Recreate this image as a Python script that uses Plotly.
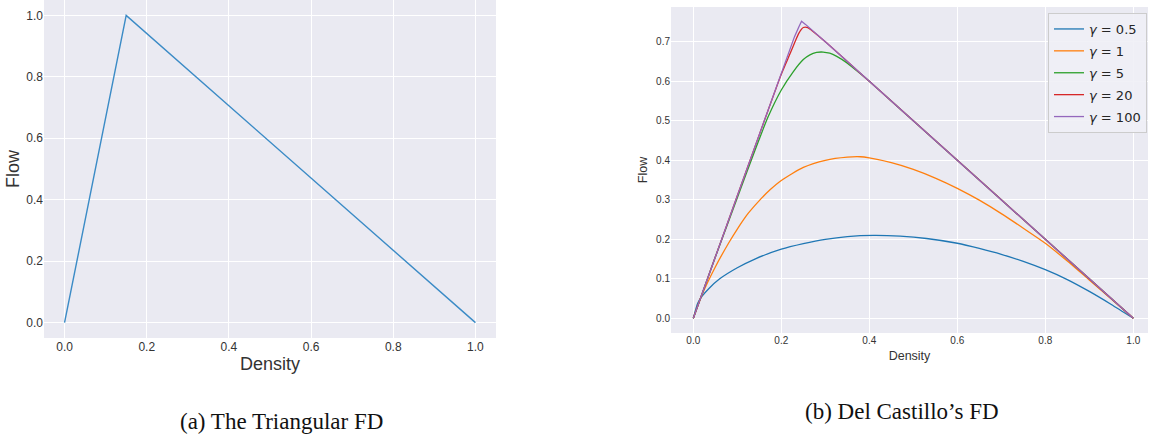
import plotly.graph_objects as go

# ---- (a) triangular fundamental diagram ----
tri_density = [0.0, 0.15, 1.0]
tri_flow = [0.0, 1.0, 0.0]

# ---- (b) Del Castillo's fundamental diagram, one curve per gamma ----
gamma_labels = ["0.5", "1", "5", "20", "100"]
gamma_colors = ["#1f77b4", "#ff7f0e", "#2ca02c", "#d62728", "#9467bd"]

d_g05 = [0.0, 0.01, 0.02, 0.035, 0.06, 0.1, 0.14, 0.2, 0.25, 0.3, 0.35, 0.41,
         0.47, 0.53, 0.6, 0.65, 0.7, 0.75, 0.8, 0.85, 0.9, 0.95, 1.0]
q_g05 = [0.0, 0.038, 0.056, 0.075, 0.1, 0.128, 0.15, 0.175, 0.189, 0.2, 0.207, 0.21,
         0.208, 0.202, 0.19, 0.177, 0.162, 0.144, 0.123, 0.098, 0.068, 0.035, 0.0]

d_g1 = [0.0, 0.02, 0.05, 0.08, 0.1, 0.125, 0.15, 0.175, 0.2, 0.25, 0.3, 0.35, 0.38, 0.4, 0.45,
        0.5, 0.55, 0.6, 0.65, 0.7, 0.75, 0.8, 0.85, 0.9, 0.95, 1.0]
q_g1 = [0.0, 0.06, 0.13, 0.19, 0.226, 0.266, 0.298, 0.326, 0.349, 0.382, 0.4, 0.408, 0.409,
        0.406, 0.394, 0.377, 0.355, 0.329, 0.299, 0.265, 0.228, 0.19, 0.145, 0.097, 0.049, 0.0]

d_g5 = [0.0, 0.05, 0.1, 0.14, 0.17, 0.2, 0.227, 0.25, 0.265, 0.28, 0.295, 0.31, 0.326,
        0.35, 0.38, 0.4, 0.45, 0.5, 0.6, 0.7, 0.8, 0.9, 1.0]
q_g5 = [0.0, 0.155, 0.305, 0.425, 0.51, 0.578, 0.624, 0.655, 0.667, 0.673, 0.674, 0.671, 0.663,
        0.646, 0.619, 0.6, 0.55, 0.5, 0.4, 0.3, 0.2, 0.1, 0.0]

d_g20 = [0.0, 0.05, 0.1, 0.15, 0.2, 0.22, 0.23, 0.24, 0.25, 0.26, 0.27, 0.3, 0.4,
         0.5, 0.6, 0.7, 0.8, 0.9, 1.0]
q_g20 = [0.0, 0.155, 0.31, 0.465, 0.618, 0.67, 0.697, 0.722, 0.736, 0.736, 0.728, 0.7, 0.6,
         0.5, 0.4, 0.3, 0.2, 0.1, 0.0]

d_g100 = [0.0, 0.05, 0.1, 0.15, 0.2, 0.23, 0.24, 0.246, 0.255, 0.27, 0.3, 0.4, 0.5,
          0.6, 0.7, 0.8, 0.9, 1.0]
q_g100 = [0.0, 0.155, 0.31, 0.465, 0.62, 0.713, 0.738, 0.752, 0.744, 0.73, 0.7, 0.6, 0.5,
          0.4, 0.3, 0.2, 0.1, 0.0]

curves = [(d_g05, q_g05, "spline"), (d_g1, q_g1, "spline"), (d_g5, q_g5, "spline"),
          (d_g20, q_g20, "spline"), (d_g100, q_g100, "linear")]

W, H = 1151, 438
BG = "#eaeaf2"
TXT = "#333333"

fig = go.Figure()

fig.add_trace(go.Scatter(x=tri_density, y=tri_flow, mode="lines",
                         line=dict(color="#3b8bc6", width=1.4),
                         xaxis="x", yaxis="y", showlegend=False))

for (dd, qq, shape), lab, col in zip(curves, gamma_labels, gamma_colors):
    fig.add_trace(go.Scatter(x=dd, y=qq, mode="lines", name=f"<i>γ</i> = {lab}",
                             legendgroup=f"g{lab}",
                             line=dict(color=col, width=1.3, shape=shape, smoothing=0.6),
                             xaxis="x2", yaxis="y2"))

def px_x(p):
    return p / W

def px_y(p):
    return 1 - p / H

axis_common = dict(showgrid=True, gridcolor="white", gridwidth=1, zeroline=False,
                   showline=False, ticks="", color=TXT)

fig.update_layout(
    width=W, height=H,
    margin=dict(l=0, r=0, t=0, b=0),
    paper_bgcolor="white",
    font=dict(family="Liberation Sans, Arial, sans-serif", color=TXT),
    xaxis=dict(axis_common, domain=[px_x(44), px_x(496)], range=[-0.05, 1.05],
               tickvals=[0, 0.2, 0.4, 0.6, 0.8, 1.0], tickformat=".1f",
               tickfont=dict(size=12), anchor="y",
               title=dict(text="Density", font=dict(size=18), standoff=4)),
    yaxis=dict(axis_common, domain=[px_y(338), px_y(0)], range=[-0.05, 1.05],
               tickvals=[0, 0.2, 0.4, 0.6, 0.8, 1.0], tickformat=".1f",
               tickfont=dict(size=12), anchor="x",
               title=dict(text="Flow", font=dict(size=18), standoff=2)),
    xaxis2=dict(axis_common, domain=[px_x(671), px_x(1148)], range=[-0.0507, 1.0334],
                tickvals=[0, 0.2, 0.4, 0.6, 0.8, 1.0], tickformat=".1f",
                tickfont=dict(size=10), anchor="y2",
                title=dict(text="Density", font=dict(size=12.5), standoff=6)),
    yaxis2=dict(axis_common, domain=[px_y(333), px_y(7)], range=[-0.0372, 0.788],
                tickvals=[0, 0.1, 0.2, 0.3, 0.4, 0.5, 0.6, 0.7], tickformat=".1f",
                tickfont=dict(size=10), anchor="x2",
                title=dict(text="Flow", font=dict(size=12.5), standoff=5)),
    plot_bgcolor=BG,
    legend=dict(x=px_x(1147), xanchor="right", y=px_y(13), yanchor="top",
                bgcolor="rgba(240,240,246,0.9)", bordercolor="#cccccc", borderwidth=1,
                font=dict(family="DejaVu Sans", size=13, color="#262626"),
                tracegroupgap=2, itemwidth=30),
    annotations=[
        dict(text="(a) The Triangular FD", x=px_x(281), y=px_y(421), xref="paper", yref="paper",
             xanchor="center", yanchor="middle", showarrow=False,
             font=dict(family="Liberation Serif", size=23, color="#111111")),
        dict(text="(b) Del Castillo’s FD", x=px_x(902), y=px_y(411), xref="paper", yref="paper",
             xanchor="center", yanchor="middle", showarrow=False,
             font=dict(family="Liberation Serif", size=23, color="#111111")),
    ],
)

fig.write_html("out.html")
